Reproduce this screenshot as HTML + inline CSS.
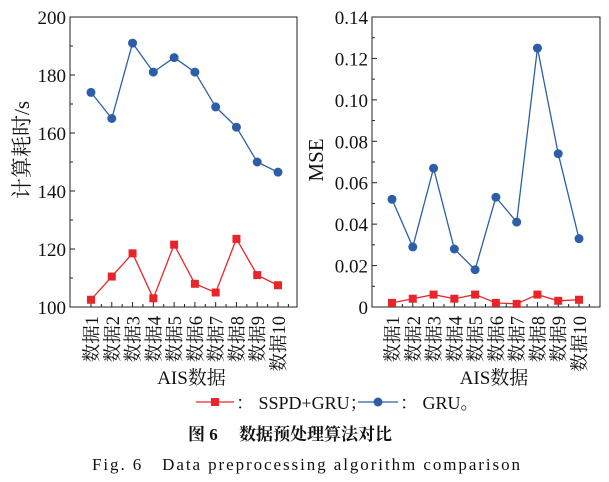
<!DOCTYPE html>
<html><head><meta charset="utf-8"><style>
body{margin:0;background:#fff}
text{font-family:"Liberation Serif","Noto Serif CJK SC",serif;fill:#111}
</style></head><body>
<svg width="609" height="477" xmlns="http://www.w3.org/2000/svg" id="svg"></svg>
<script>
const categories=["数据1","数据2","数据3","数据4","数据5","数据6","数据7","数据8","数据9","数据10"];
const timeGRU=[174,165,191,181,186,181,169,162,150,146.5];
const timeSSPD=[102.5,110.5,118.5,103,121.5,108,105,123.5,111,107.5];
const mseGRU=[0.052,0.029,0.067,0.028,0.018,0.053,0.041,0.125,0.074,0.033];
const mseSSPD=[0.002,0.004,0.006,0.004,0.006,0.002,0.0015,0.006,0.003,0.0035];
const timeTicks=[100,120,140,160,180,200];
const mseTicks=["0","0.02","0.04","0.06","0.08","0.10","0.12","0.14"];
const NS="http://www.w3.org/2000/svg";
const svg=document.getElementById('svg');
function el(t,a,txt){const e=document.createElementNS(NS,t);for(const k in a)e.setAttribute(k,a[k]);if(txt!==undefined)e.textContent=txt;svg.appendChild(e);return e;}
function panel(p){
  const top=17,bot=307;
  const y=v=>bot-(v-p.min)/(p.max-p.min)*(bot-top);
  const x=i=>p.x1+i*(p.x10-p.x1)/9;
  const fr=el('rect',{x:p.L,y:top,width:p.R-p.L,height:bot-top,fill:'none',stroke:'#222','stroke-width':1});
  
  p.ticks.forEach((t,k)=>{const v=p.min+k*(p.max-p.min)/(p.ticks.length-1);const yy=y(v);
    const l=el('line',{x1:p.L,x2:p.L+5,y1:yy,y2:yy,stroke:'#222'});
    if(k<p.ticks.length-1){const ym=y(v+(p.max-p.min)/(p.ticks.length-1)/2);el('line',{x1:p.L,x2:p.L+3,y1:ym,y2:ym,stroke:'#222'});}
    const tx=el('text',{x:p.L-4,y:yy+7,'text-anchor':'end','font-size':19},String(t));
    });
  categories.forEach((c,i)=>{const xx=x(i);
    el('line',{x1:xx,x2:xx,y1:bot,y2:bot-5,stroke:'#222'});
    if(i<9)el('line',{x1:xx+(x(1)-x(0))/2,x2:xx+(x(1)-x(0))/2,y1:bot,y2:bot-3,stroke:'#222'});
    const t=el('text',{transform:`translate(${xx+7},${bot+9}) rotate(-90)`,'text-anchor':'end','font-size':18.5},c);
    });
  el('line',{x1:p.x10+(x(1)-x(0))/2,x2:p.x10+(x(1)-x(0))/2,y1:bot,y2:bot-3,stroke:'#222'});
  const xt=el('text',{x:(p.L+p.R)/2+8,y:384,'text-anchor':'middle','font-size':19},'AIS数据');
  
  const yt=el('text',{transform:`translate(${p.yx},${p.yy}) rotate(-90)`,'text-anchor':'middle','font-size':21},p.ylab);
  
  [[p.sspd,'#e8262a','sq'],[p.gru,'#2c5fa8','c']].forEach(([d,col,m])=>{
    const pl=el('polyline',{points:d.map((v,i)=>x(i)+','+y(v)).join(' '),fill:'none',stroke:col,'stroke-width':1.3});
    
    d.forEach((v,i)=>{let mk;
      if(m=='sq')mk=el('rect',{x:x(i)-4,y:y(v)-4,width:8,height:8,fill:col});
      else mk=el('circle',{cx:x(i),cy:y(v),r:4.5,fill:col});
      });
  });
}
panel({name:'time',L:70,R:297,x1:91,x10:278,min:100,max:200,ticks:timeTicks,gru:timeGRU,sspd:timeSSPD,ylab:'计算耗时/s',yx:29,yy:150});
panel({name:'mse',L:372,R:600,x1:392,x10:579,min:0,max:0.14,ticks:mseTicks,gru:mseGRU,sspd:mseSSPD,ylab:'MSE',yx:323,yy:160});
// legend
let g=el('line',{x1:196,x2:234,y1:402,y2:402,stroke:'#e8262a','stroke-width':1.3});
g=el('rect',{x:211,y:398,width:8,height:8,fill:'#e8262a'});
g=el('text',{x:236,y:409,'font-size':18},'： SSPD+GRU；');
g=el('line',{x1:358,x2:398,y1:402,y2:402,stroke:'#2c5fa8','stroke-width':1.3});
g=el('circle',{cx:378,cy:402,r:4.5,fill:'#2c5fa8'});
g=el('text',{x:400,y:409,'font-size':18},'： GRU。');
g=el('text',{x:188,y:440,'font-size':17,'font-weight':'bold','font-family':'"Noto Sans CJK SC",sans-serif'},'图 6　 数据预处理算法对比');
g=el('text',{x:92,y:470,'font-size':17,textLength:428,lengthAdjust:'spacing'},'Fig. 6　Data preprocessing algorithm comparison');
</script>
</body></html>
